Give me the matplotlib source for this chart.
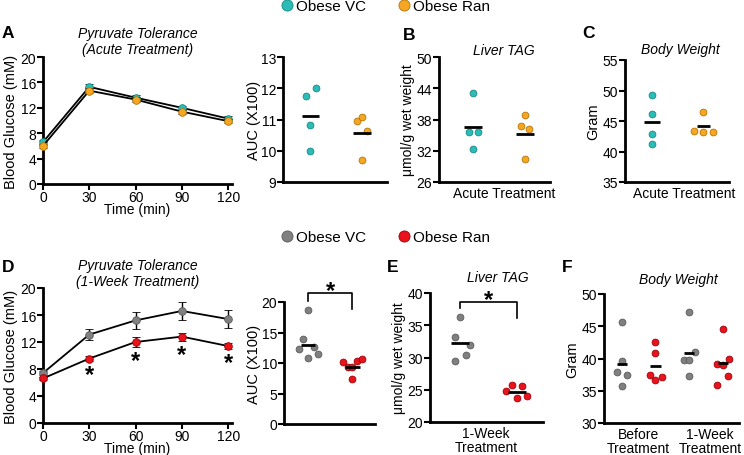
import matplotlib
matplotlib.use("Agg")
from matplotlib import pyplot as plt
from matplotlib.lines import Line2D
import numpy as np

plt.rcParams['font.family'] = ['Liberation Sans', 'DejaVu Sans']

# ---- data ----
time = [0, 30, 60, 90, 120]

acute_vc = [6.6, 15.3, 13.6, 12.0, 10.3]
acute_vc_err = [0.4, 0.4, 0.35, 0.3, 0.4]
acute_ran = [6.0, 14.7, 13.3, 11.4, 9.9]
acute_ran_err = [0.3, 0.4, 0.35, 0.3, 0.3]

week_vc = [7.4, 13.1, 15.2, 16.6, 15.4]
week_vc_err = [0.3, 0.85, 1.3, 1.3, 1.3]
week_ran = [6.6, 9.55, 12.0, 12.8, 11.4]
week_ran_err = [0.25, 0.4, 0.8, 0.6, 0.5]
week_sig = [False, True, True, True, True]

auc_acute_vc = [12.0, 11.74, 10.82, 9.98]
auc_acute_ran = [10.94, 11.07, 10.62, 9.71]
auc_acute_mean = [11.11, 10.58]

tag_acute_vc = [43.15, 35.6, 35.6, 32.4]
tag_acute_ran = [38.9, 36.7, 36.1, 30.35]
tag_acute_mean = [36.5, 35.3]

bw_acute_vc = [49.3, 46.1, 42.9, 41.3]
bw_acute_ran = [46.4, 43.4, 43.2, 43.2]
bw_acute_mean = [44.8, 44.1]

auc_week_vc = [18.74, 13.86, 12.27, 12.55, 10.8, 11.5]
auc_week_ran = [10.1, 9.4, 9.3, 10.3, 10.7, 7.3]
auc_week_mean = [13.0, 9.3]

tag_week_vc = [36.24, 33.25, 31.96, 30.4, 29.43]
tag_week_ran = [25.77, 25.57, 24.85, 23.7, 23.97]
tag_week_mean = [32.2, 24.64]

bw_before_vc = [45.7, 39.56, 37.86, 37.4, 35.7]
bw_before_ran = [42.6, 40.8, 37.5, 36.7, 37.1]
bw_after_vc = [47.26, 39.8, 39.8, 40.96, 37.24]
bw_after_ran = [44.63, 39.15, 39.04, 39.97, 37.24, 35.94]
bw_week_mean = [39.15, 38.8, 40.85, 39.3]

# ---- colours ----
cyan = '#2bbcb8'
cyan_e = '#178a86'
orange = '#f5a623'
orange_e = '#b87400'
gray = '#808080'
gray_e = '#5a5a5a'
red = '#e8131b'
red_e = '#a00008'

W, H = 744, 456
fig = plt.figure(figsize=(W / 100, H / 100), dpi=100)


def add_ax(l, t, r, b):
    ax = fig.add_axes([l / W, 1 - b / H, (r - l) / W, (b - t) / H])
    for s in ['top', 'right']:
        ax.spines[s].set_visible(False)
    for s in ['left', 'bottom']:
        ax.spines[s].set_linewidth(2)
    ax.tick_params(width=1.5, length=4, labelsize=10, pad=1)
    return ax


def dots(ax, x0, vals, offs, fc, ec):
    x = [x0 + o for o in offs]
    ax.scatter(x, vals, s=24, facecolor=fc, edgecolor=ec, linewidth=0.6,
               zorder=3, clip_on=False)


def mean_bar(ax, x0, m, hw):
    ax.plot([x0 - hw, x0 + hw], [m, m], color='black', lw=2, zorder=4,
            solid_capstyle='butt')


def tolerance(ax, vc, vc_err, ran, ran_err, c1, e1, c2, e2, title, pad):
    ax.errorbar(time, vc, yerr=vc_err, color='black', lw=1.3, capsize=3,
                elinewidth=1, marker='o', ms=5.5, mfc=c1, mec=e1, mew=0.6,
                clip_on=False, zorder=3)
    ax.errorbar(time, ran, yerr=ran_err, color='black', lw=1.3, capsize=3,
                elinewidth=1, marker='o', ms=5.5, mfc=c2, mec=e2, mew=0.6,
                clip_on=False, zorder=4)
    ax.set_xlim(0, 122.5)
    ax.set_ylim(0, 20)
    ax.set_xticks(time)
    ax.set_yticks([0, 4, 8, 12, 16, 20])
    ax.tick_params(axis='x', pad=0)
    ax.set_xlabel('Time (min)', fontsize=10, labelpad=-1)
    ax.set_ylabel('Blood Glucose (mM)', fontsize=10.5, labelpad=2)
    ax.set_title(title, fontsize=10, style='italic', pad=pad,
                 linespacing=1.15)


def category_axis(ax, positions, labels):
    ax.set_xticks(positions)
    ax.set_xticklabels(labels, fontsize=10, linespacing=1.0)
    ax.tick_params(axis='x', length=0, pad=3)


# ---- A: acute pyruvate tolerance ----
axA = add_ax(43, 58, 232, 185)
tolerance(axA, acute_vc, acute_vc_err, acute_ran, acute_ran_err,
          cyan, cyan_e, orange, orange_e,
          'Pyruvate Tolerance\n(Acute Treatment)', 3)

axA2 = add_ax(283, 58, 387, 183)
dots(axA2, 0, auc_acute_vc, [0.1, -0.09, 0, 0], cyan, cyan_e)
dots(axA2, 1, auc_acute_ran, [-0.1, 0, 0.1, 0], orange, orange_e)
mean_bar(axA2, 0, auc_acute_mean[0], 0.17)
mean_bar(axA2, 1, auc_acute_mean[1], 0.17)
axA2.set_xlim(-0.53, 1.48)
axA2.set_ylim(9, 13)
axA2.set_yticks([9, 10, 11, 12, 13])
axA2.set_xticks([])
axA2.set_ylabel('AUC (X100)', fontsize=10.5, labelpad=0)

# ---- B: liver TAG acute ----
axB = add_ax(439, 58, 550, 183)
dots(axB, 0, tag_acute_vc, [0, -0.08, 0.1, 0], cyan, cyan_e)
dots(axB, 1, tag_acute_ran, [0, -0.08, 0.08, 0], orange, orange_e)
mean_bar(axB, 0, tag_acute_mean[0], 0.17)
mean_bar(axB, 1, tag_acute_mean[1], 0.17)
axB.set_xlim(-0.66, 1.48)
axB.set_ylim(26, 50)
axB.set_yticks([26, 32, 38, 44, 50])
category_axis(axB, [0.59], ['Acute Treatment'])
axB.set_ylabel('\u03bcmol/g wet weight', fontsize=10, labelpad=1)
axB.set_title('Liver TAG', fontsize=10, style='italic', pad=1, x=0.58)

# ---- C: body weight acute ----
axC = add_ax(625, 61, 729, 183)
dots(axC, 0, bw_acute_vc, [0, 0, 0, 0], cyan, cyan_e)
dots(axC, 1, bw_acute_ran, [0, -0.18, 0, 0.19], orange, orange_e)
mean_bar(axC, 0, bw_acute_mean[0], 0.15)
mean_bar(axC, 1, bw_acute_mean[1], 0.13)
axC.set_xlim(-0.53, 1.5)
axC.set_ylim(35, 55)
axC.set_yticks([35, 40, 45, 50, 55])
category_axis(axC, [0.62], ['Acute Treatment'])
axC.set_ylabel('Gram', fontsize=10.5, labelpad=2)
axC.set_title('Body Weight', fontsize=10, style='italic', pad=5, x=0.53)

# ---- D: 1-week pyruvate tolerance ----
axD = add_ax(43, 289, 232, 424)
tolerance(axD, week_vc, week_vc_err, week_ran, week_ran_err,
          gray, gray_e, red, red_e,
          'Pyruvate Tolerance\n(1-Week Treatment)', -3)
for t, r, e, s in zip(time, week_ran, week_ran_err, week_sig):
    if s:
        axD.text(t, r - e - 0.3, '*', ha='center', va='top', fontsize=17,
                 fontweight='bold')

axD2 = add_ax(284, 303, 375, 425)
dots(axD2, 0, auc_week_vc, [0, -0.12, -0.22, 0.12, 0, 0.22], gray, gray_e)
dots(axD2, 1, auc_week_ran, [-0.22, -0.11, 0, 0.1, 0.21, 0], red, red_e)
mean_bar(axD2, 0, auc_week_mean[0], 0.16)
mean_bar(axD2, 1, auc_week_mean[1], 0.16)
axD2.set_xlim(-0.55, 1.51)
axD2.set_ylim(0, 20)
axD2.set_yticks([0, 5, 10, 15, 20])
axD2.set_xticks([])
axD2.set_ylabel('AUC (X100)', fontsize=10.5, labelpad=0)
axD2.plot([0, 0, 1, 1], [20.2, 21.5, 21.5, 18.9], color='black', lw=1.2,
          clip_on=False)
axD2.text(0.5, 20.0, '*', ha='center', va='bottom', fontsize=17,
          fontweight='bold')

# ---- E: liver TAG 1 week ----
axE = add_ax(430, 294, 543, 423)
dots(axE, 0, tag_week_vc, [0, -0.09, 0.18, 0.1, -0.09], gray, gray_e)
dots(axE, 1, tag_week_ran, [-0.09, 0.09, -0.19, 0, 0.18], red, red_e)
mean_bar(axE, 0, tag_week_mean[0], 0.16)
mean_bar(axE, 1, tag_week_mean[1], 0.16)
axE.set_xlim(-0.53, 1.46)
axE.set_ylim(20, 40)
axE.set_yticks([20, 25, 30, 35, 40])
category_axis(axE, [0.46], ['1-Week\nTreatment'])
axE.set_ylabel('\u03bcmol/g wet weight', fontsize=10, labelpad=1)
axE.set_title('Liver TAG', fontsize=10, style='italic', pad=9, x=0.6)
axE.plot([0, 0, 1, 1], [37.6, 38.6, 38.6, 36.1], color='black', lw=1.2,
         clip_on=False)
axE.text(0.5, 37.2, '*', ha='center', va='bottom', fontsize=17,
         fontweight='bold')

# ---- F: body weight 1 week ----
axF = add_ax(604, 295, 739, 424)
dots(axF, 0, bw_before_vc, [0, 0, -0.15, 0.15, 0], gray, gray_e)
dots(axF, 1, bw_before_ran, [0, 0, -0.17, 0, 0.18], red, red_e)
dots(axF, 2, bw_after_vc, [0, -0.17, 0, 0.18, 0], gray, gray_e)
dots(axF, 3, bw_after_ran, [0, -0.19, 0, 0.18, 0.14, -0.17], red, red_e)
for i, m in enumerate(bw_week_mean):
    mean_bar(axF, i, m, 0.15)
axF.set_xlim(-0.52, 3.47)
axF.set_ylim(30, 50)
axF.set_yticks([30, 35, 40, 45, 50])
category_axis(axF, [0.49, 2.61], ['Before\nTreatment', '1-Week\nTreatment'])
axF.set_ylabel('Gram', fontsize=10.5, labelpad=2)
axF.set_title('Body Weight', fontsize=10, style='italic', pad=8, x=0.55)

# ---- panel letters ----
for lab, x, y in [('A', 2, 33), ('B', 403, 35), ('C', 582, 33),
                  ('D', 2, 268), ('E', 387, 268), ('F', 562, 268)]:
    fig.text(x / W, 1 - y / H, lab, fontsize=12.5, fontweight='bold',
             va='center', ha='left')

# ---- legends ----
def legend(c1, e1, c2, e2, y):
    handles = [Line2D([], [], ls='none', marker='o', ms=8, mfc=c1, mec=e1,
                      mew=0.6),
               Line2D([], [], ls='none', marker='o', ms=8, mfc=c2, mec=e2,
                      mew=0.6)]
    fig.legend(handles, ['Obese VC', 'Obese Ran'], ncol=2, frameon=False,
               loc='center', bbox_to_anchor=(0.517, 1 - y / H),
               fontsize=11, handletextpad=0.05, columnspacing=2.0,
               handlelength=1.0, borderpad=0)


legend(cyan, cyan_e, orange, orange_e, 7)
legend(gray, gray_e, red, red_e, 238)

fig.savefig('out.png', dpi=100)
